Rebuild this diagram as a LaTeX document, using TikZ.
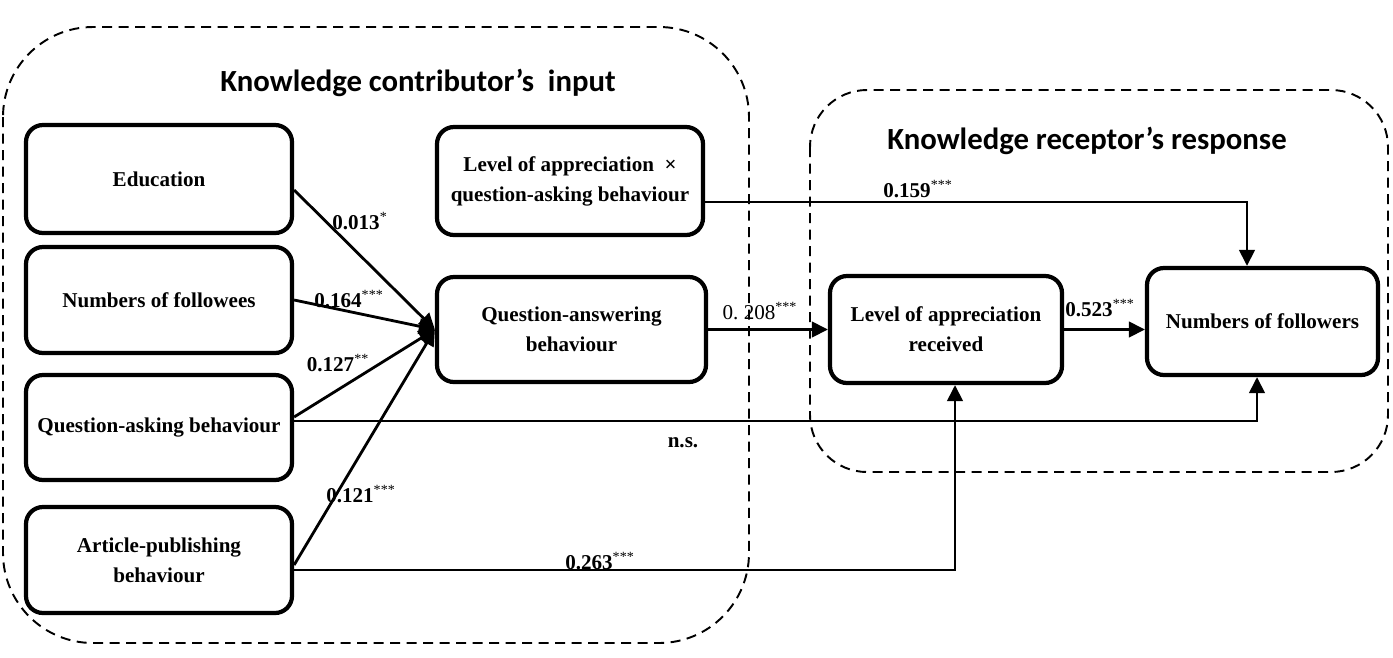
\documentclass[tikz,border=0pt]{standalone}
\usepackage{fontspec}
\setmainfont{Liberation Serif}
\newfontfamily\titlefont{Carlito}
\usepackage{tikz}
\usetikzlibrary{positioning, arrows.meta}
\tikzset{
    varbox/.style={draw, rounded corners=3.4mm, line width=2.4pt, align=center,
        minimum width=53.2mm, minimum height=21.4mm, inner sep=2pt,
        font=\fontsize{12}{17}\selectfont\bfseries},
    groupbox/.style={draw, line width=1.1pt, dash pattern=on 2mm off 1.3mm},
    grouptitle/.style={font=\titlefont\fontsize{17.5}{20}\selectfont\bfseries},
    link/.style={line width=1.6pt, -{Triangle[length=3.2mm, width=3.1mm]}},
    coef/.style={font=\fontsize{12}{14}\selectfont\bfseries, inner sep=1pt}
}
\newcommand{\sig}[1]{\textsuperscript{\mdseries #1}}

\begin{document}
\begin{tikzpicture}[x=0.2mm, y=-0.2mm]
\useasboundingbox (0,0) rectangle (1393,657);
% the two groups
\draw[groupbox, rounded corners=18mm] (3,27) rectangle (749,643);
\draw[groupbox, rounded corners=11.4mm] (810,90) rectangle (1388,472);
\node[grouptitle] (intitle) at (418,83) {Knowledge contributor’s~~input};
\node[grouptitle] (outtitle) at (1087,141) {Knowledge receptor’s response};
% variables
\node[varbox, minimum height=21.6mm] (edu) at (159,179) {Education};
\node[varbox, minimum height=21.2mm] (fee) at (159,300) {Numbers of followees};
\node[varbox, minimum height=21mm] (qask) at (159,427.5) {Question-asking behaviour};
\node[varbox, minimum height=21.2mm] (art) at (159,560) {Article-publishing\\behaviour};
\node[varbox, minimum height=21.6mm] (lxq) at (570,181) {Level of appreciation~~×\\question-asking behaviour};
\node[varbox, minimum width=53.8mm, minimum height=21mm] (qans) at (571.5,329.5) {Question-answering\\behaviour};
\node[varbox, minimum width=46.4mm] (lar) at (946,329.5) {Level of appreciation\\received};
\node[varbox, minimum width=46.2mm] (nfol) at (1262.5,321.5) {Numbers of followers};
% paths
\draw[link] ([yshift=-2.2mm]edu.east) -- (qans.west);
\draw[link] (fee.east) -- (qans.west);
\draw[link] ([yshift=2.1mm]qask.east) -- (qans.west);
\draw[link] ([yshift=-1mm]art.east) -- (qans.west);
\draw[link] (qans.east) -- (lar.west);
\draw[link] (lar.east) -- (lar.east -| nfol.west);
\draw[link] ([yshift=-4.2mm]lxq.east) -| ([xshift=-3.1mm]nfol.north);
\draw[link] ([yshift=1.3mm]qask.east) -| ([xshift=-1.1mm]nfol.south);
\draw[link] ([yshift=-2mm]art.east) -| ([xshift=1.8mm]lar.south);
% coefficients
\node[coef] (c-edu) at (360,221) {0.013\sig{*}};
\node[coef] (c-fee) at (349,299) {0.164\sig{***}};
\node[coef] (c-qask) at (338,363) {0.127\sig{**}};
\node[coef] (c-art) at (361,494) {0.121\sig{***}};
\node[coef] (c-qans) at (760,311) {\mdseries 0.\ 208\sig{***}};
\node[coef] (c-lar) at (1100,308) {0.523\sig{***}};
\node[coef] (c-lxq) at (918,189) {0.159\sig{***}};
\node[coef] (c-qasknf) at (683,443) {n.s.};
\node[coef] (c-artlar) at (600,561) {0.263\sig{***}};
\end{tikzpicture}
\end{document}
